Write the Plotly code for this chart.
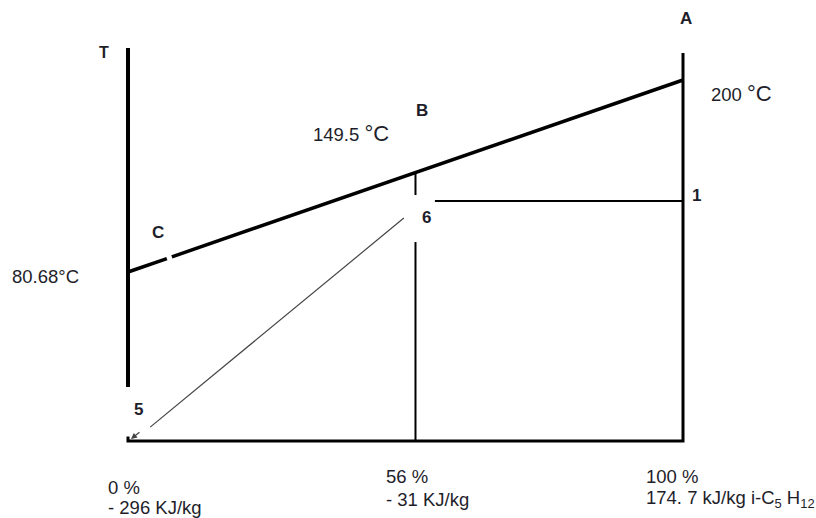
import plotly.graph_objects as go

# ---- data (schematic x = heat-fraction position in %, y = temperature in °C) ----
hot_x = [0, 7.0, None, 7.9, 100]          # hot stream line C -> B -> A (with small break near C)
hot_T = [80.68, 89.03, None, 90.11, 200]

left_x = [0, 0]                            # T axis line
left_T = [9.2, 219.9]

frame_x = [0, 0, 100, 100]                 # small corner stub, bottom axis and right line (A)
frame_T = [-21.5, -24.35, -24.35, 216.8]

pinch_x = [51.8, 51.8, None, 51.8, 51.8]   # vertical through B / 6
pinch_T = [142.49, 128.5, None, 99.3, -24.35]

l1_x = [55.3, 100]                         # horizontal from 6 to point 1
l1_T = [124.8, 124.8]

cold_x = [49.7, 4.0]                       # line from 6 towards 5
cold_T = [114.2, -15.7]

tick_labels = [("0 %", "- 296 KJ/kg"), ("56 %", "- 31 KJ/kg"),
               ("100 %", "174. 7 kJ/kg i-C<sub>5</sub> H<sub>12</sub>")]

# ---- pixel helper for text placement ----
X0, SX = 128.0, 5.55
Y0, SY = 272.0, 192.0 / 119.32
W, H = 816, 518
def px(x): return (x - X0) / SX
def py(y): return 80.68 - (y - Y0) / SY

fig = go.Figure()
def line(x, y, w, c="black"):
    fig.add_trace(go.Scatter(x=x, y=y, mode="lines", line=dict(color=c, width=w),
                             hoverinfo="skip", showlegend=False, connectgaps=False))

line(hot_x, hot_T, 3.5)
line(left_x, left_T, 4)
line(frame_x, frame_T, 3)
line(pinch_x, pinch_T, 2)
line(l1_x, l1_T, 2)
line(cold_x, cold_T, 1.2, "#444")

FONT = "Liberation Sans, Arial, sans-serif"
TC = "#1e1e2a"
ann = []
def txt(t, x, y, size=18.5, bold=False, xa="center", ya="middle"):
    if bold:
        t = "<b>" + t + "</b>"
    ann.append(dict(text=t, x=px(x), y=py(y), xref="x", yref="y", showarrow=False,
                    xanchor=xa, yanchor=ya, font=dict(family=FONT, size=size, color=TC)))

txt("T", 104, 52, 16, True)
txt("A", 686, 18, 17, True)
txt("200 <span style='font-size:22px'>°C</span>", 709, 93, xa="left")
txt("B", 422, 110, 17, True)
txt("149.5 <span style='font-size:22px'>°C</span>", 311, 133, xa="left")
txt("C", 158, 232, 17, True)
txt("80.68°C", 10, 276, xa="left")
txt("6", 426, 217, 17, True)
txt("1", 696, 195, 17, True)
txt("5", 138, 409, 17, True)

bottom_pos = [(106, 487, 507), (384, 476, 499), (644, 476, 499)]
for (a, b), (x, y1, y2) in zip(tick_labels, bottom_pos):
    txt(a, x, y1, xa="left")
    txt(b, x, y2, xa="left")

# arrowhead of the line from 6 to 5
ann.append(dict(x=px(131), y=py(439), ax=px(141), ay=py(431), xref="x", yref="y",
                axref="x", ayref="y", showarrow=True, arrowhead=2, arrowsize=1,
                arrowwidth=1.2, arrowcolor="#444", text=""))

fig.update_layout(
    width=W, height=H, margin=dict(l=0, r=0, t=0, b=0),
    paper_bgcolor="white", plot_bgcolor="white", annotations=ann,
    xaxis=dict(range=[px(0), px(W)], visible=False, fixedrange=True),
    yaxis=dict(range=[py(H), py(0)], visible=False, fixedrange=True),
)
fig.write_html("out.html", config={"displayModeBar": False},
               post_script="document.body.style.margin='0';document.body.style.overflow='hidden';")
